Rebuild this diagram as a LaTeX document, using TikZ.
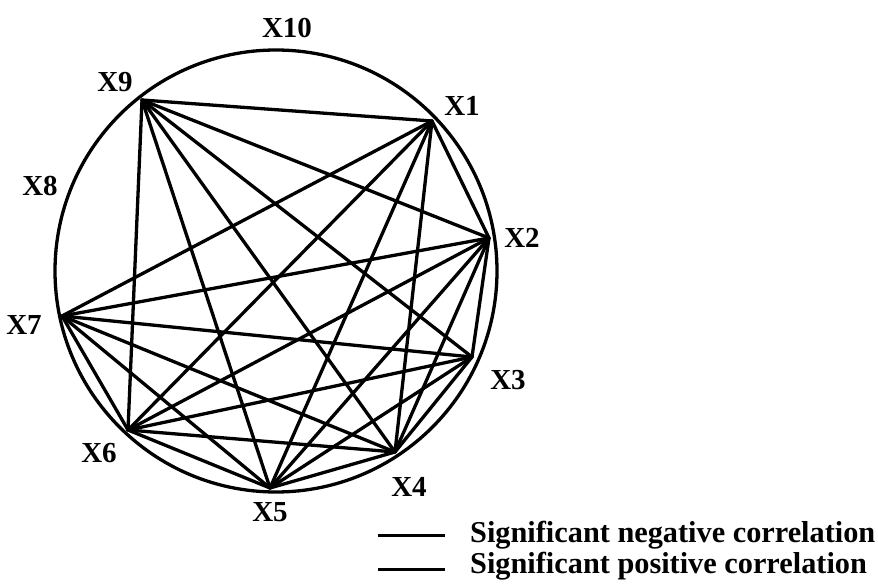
\documentclass[tikz,border=0pt]{standalone}
\usepackage{fontspec}
\setmainfont{Liberation Serif}
\begin{document}
\begin{tikzpicture}[x=1pt,y=-1pt,
  edge/.style={line width=3.3pt,line cap=round,line join=round},
  lab/.style={font=\fontsize{29}{32}\selectfont\bfseries,inner sep=0pt},
  legtext/.style={font=\fontsize{30.3}{32}\selectfont\bfseries,inner sep=0pt,anchor=west}]
\useasboundingbox (0,0) rectangle (878,588);
\coordinate (c) at (276,271);
\draw[edge] (c) circle[radius=221];
% variable points
\coordinate (v9) at (142,100);
\coordinate (v1) at (432,121);
\coordinate (v2) at (489,238);
\coordinate (v3) at (472,357);
\coordinate (v4) at (395,452);
\coordinate (v5) at (270,488);
\coordinate (v6) at (128,430);
\coordinate (v7) at (62,316);
% labels
\node[lab] (l10) at (287,28) {X10};
\node[lab] (l9) at (115,82) {X9};
\node[lab] (l1) at (462,106) {X1};
\node[lab] (l8) at (40,186) {X8};
\node[lab] (l2) at (522,238) {X2};
\node[lab] (l3) at (508,380) {X3};
\node[lab] (l4) at (409,487) {X4};
\node[lab] (l5) at (270,512) {X5};
\node[lab] (l6) at (99,453) {X6};
\node[lab] (l7) at (24,325) {X7};
% correlations
\foreach \a/\b in {9/1,9/2,9/3,9/4,9/5,9/6,
                   1/2,1/4,1/5,1/6,1/7,
                   2/3,2/4,2/5,2/6,2/7,
                   3/4,3/5,3/6,3/7,
                   4/5,4/6,4/7,
                   5/6,5/7,
                   6/7}
  \draw[edge] (v\a) -- (v\b);
% legend
\coordinate (ga) at (378,535);
\coordinate (gb) at (445,535);
\coordinate (gc) at (378,569);
\coordinate (gd) at (445,569);
\draw[line width=3pt] (ga) -- (gb);
\draw[line width=3pt] (gc) -- (gd);
\node[legtext] (t1) at (470,535) {Significant negative correlation};
\node[legtext] (t2) at (470,566) {Significant positive correlation};
\end{tikzpicture}
\end{document}
